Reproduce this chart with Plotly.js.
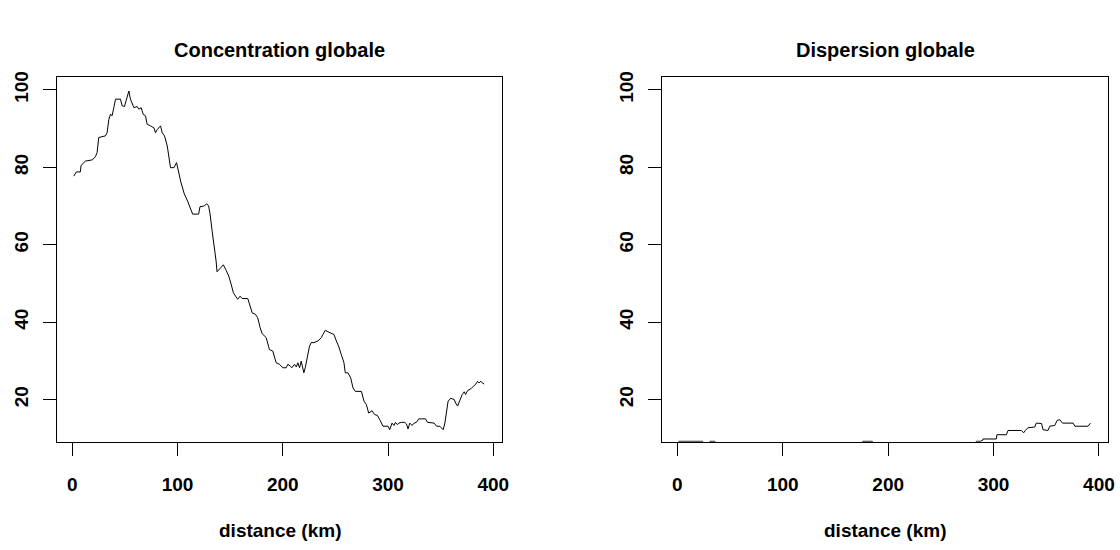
<!DOCTYPE html>
<html><head><meta charset="utf-8">
<script src="https://cdn.plot.ly/plotly-3.0.1.min.js"></script>
<style>html,body{margin:0;padding:0;background:#fff}</style>
</head><body><div id="chart" style="width:1120px;height:550px"></div>
<script>
const concKm = [1.3,3.8,7.6,8.3,12.4,18.8,21.9,23.5,25.1,31.4,
33.0,34.7,36.2,37.8,39.4,41.0,45.7,47.3,49.5,51.4,
52.8,53.7,55.2,56.9,58.5,61.6,63.2,65.4,67.3,69.5,
71.1,74.3,77.5,79.0,80.7,82.3,83.8,85.4,87.6,90.2,
91.8,93.3,96.6,99.0,103.2,106.4,109.5,112.8,114.3,120.0,
121.3,125.4,127.6,129.5,130.9,132.8,135.0,136.6,137.5,140.4,
143.5,146.1,148.6,150.9,153.0,155.6,157.1,159.4,161.3,166.7,
168.3,170.9,174.0,176.2,178.5,180.4,184.2,185.7,187.3,190.5,
193.7,196.9,200.0,203.2,204.8,207.3,208.6,211.1,212.8,214.3,
215.9,217.5,220.0,221.3,223.2,225.4,227.0,229.5,233.3,236.6,
238.1,240.4,242.9,246.1,248.6,250.9,253.0,255.6,258.1,259.4,
261.9,264.5,266.7,268.9,274.7,277.1,279.4,281.6,284.8,287.3,
289.9,292.1,295.2,300.0,301.6,303.8,305.7,307.0,308.9,310.2,
312.8,315.9,317.5,319.0,320.7,322.9,324.8,327.0,329.2,335.6,
337.5,343.8,346.1,349.2,352.4,354.0,355.6,357.1,359.7,362.9,
364.2,366.1,368.3,370.5,372.4,373.7,375.6,378.8,381.0,383.2,
385.1,386.4,388.3,389.5,391.4];
const concVal = [77.7,78.8,78.8,80.5,81.6,81.9,82.7,83.8,87.7,88.1,
88.9,92.4,93.7,93.3,95.4,97.6,97.6,95.9,95.7,97.6,
98.9,99.7,97.6,96.3,95.4,95.7,95.0,95.4,93.7,93.3,
91.1,90.7,90.2,88.9,89.8,90.2,90.7,88.9,88.1,85.5,
82.0,79.9,79.9,81.2,76.1,73.1,71.3,69.2,67.9,67.9,
69.8,70.0,70.6,70.0,67.9,63.6,59.3,55.8,53.0,53.9,
54.8,53.4,51.9,49.8,47.6,46.5,45.9,46.7,46.1,46.1,
44.6,42.4,42.0,41.1,38.5,37.0,36.0,34.7,32.9,32.5,
29.5,29.1,28.2,28.2,29.1,28.6,28.2,29.1,28.4,29.5,
28.2,29.9,26.9,28.2,30.8,33.8,34.7,34.7,35.1,36.0,
36.8,37.9,37.5,37.0,36.8,35.1,33.8,31.6,29.5,26.9,
26.9,25.6,23.0,22.1,22.1,19.6,18.7,16.5,17.1,16.1,
15.9,14.8,13.1,13.1,12.2,13.9,13.3,14.1,13.5,13.9,
14.1,14.1,13.7,12.4,13.9,13.3,13.9,14.1,15.0,15.0,
14.1,13.9,13.1,13.1,12.2,13.9,17.0,19.6,20.3,20.0,
19.1,18.3,19.8,21.3,22.0,21.3,22.3,22.8,23.4,23.9,
24.7,24.3,24.7,24.3,24.0];
const dispKm = [1,24,24.5,30.5,31,35.6,36,175.5,176,185,
185.5,283,283.6,288,288.4,289.5,289.9,302.7,303.2,312.2,
313.7,326.4,328.6,330,332.7,339.1,340.5,343.2,345.5,347,
351.7,353.3,358.1,360.3,362.8,365.4,375.5,377.1,389.7,391.9];
const dispVal = [9.2,9.2,8.5,8.5,9.2,9.2,8.5,8.5,9.2,9.2,
8.5,8.5,9.2,9.2,9.4,9.4,9.8,9.8,10.9,10.9,
12.0,12.0,11.4,12.0,12.7,12.9,13.9,13.9,13.8,12.2,
12.0,13.1,13.3,14.6,14.8,13.9,13.9,13.1,13.1,13.9];
const xTicks = [0,100,200,300,400];
const yTicks = [20,40,60,80,100];
const plotTitles = ["Concentration globale","Dispersion globale"];
const xLabel = "distance (km)";

const FONT = "Liberation Sans, Arial, Helvetica, sans-serif";
const xRange = [-14.3, 408.3];
const yRange = [9.1, 103.4];
const yDom = [1 - 441.7/550, 1 - 76.7/550];
const xDomL = [57.3/1120, 502/1120];
const xDomR = [662.3/1120, 1107.7/1120];

function xa(dom, anchor){
  return {domain: dom, anchor: anchor, range: xRange, tickmode:'array', tickvals: xTicks,
    ticktext: xTicks.map(String), ticks:'outside', ticklen:13, tickwidth:1, tickcolor:'#000',
    showline:true, mirror:true, linecolor:'#000', linewidth:1, showgrid:false, zeroline:false,
    ticklabelstandoff: 12,
    tickfont:{family:FONT, size:19, color:'#000', weight:'bold'}};
}
function ya(anchor){
  return {domain: yDom, anchor: anchor, range: yRange, tickmode:'array', tickvals: yTicks,
    ticktext: yTicks.map(String), ticks:'outside', ticklen:13, tickwidth:1, tickcolor:'#000',
    showline:true, mirror:true, linecolor:'#000', linewidth:1, showgrid:false, zeroline:false,
    tickangle:-90, ticklabelstandoff: 8,
    tickfont:{family:FONT, size:19, color:'#000', weight:'bold'}};
}

const traces = [
  {x: concKm, y: concVal, xaxis:'x', yaxis:'y', mode:'lines', line:{color:'#000', width:1}, hoverinfo:'skip'},
  {x: dispKm, y: dispVal, xaxis:'x2', yaxis:'y2', mode:'lines', line:{color:'#000', width:1}, hoverinfo:'skip'}
];

const centers = [(xDomL[0]+xDomL[1])/2, (xDomR[0]+xDomR[1])/2];
const annotations = [];
plotTitles.forEach((t,i)=>{
  annotations.push({text:'<b>'+t+'</b>', xref:'paper', yref:'paper', x:centers[i], y:1-50/550,
    xanchor:'center', yanchor:'middle', showarrow:false, font:{family:FONT, size:20, color:'#000'}});
  annotations.push({text:'<b>'+xLabel+'</b>', xref:'paper', yref:'paper', x:centers[i], y:1-530/550,
    xanchor:'center', yanchor:'middle', showarrow:false, font:{family:FONT, size:19, color:'#000'}});
});

const layout = {
  width:1120, height:550, margin:{l:0,r:0,t:0,b:0},
  paper_bgcolor:'#fff', plot_bgcolor:'#fff', showlegend:false,
  xaxis: xa(xDomL,'y'), yaxis: ya('x'),
  xaxis2: xa(xDomR,'y2'), yaxis2: ya('x2'),
  annotations: annotations
};
Plotly.newPlot('chart', traces, layout, {staticPlot:true, displayModeBar:false});
</script>
</body></html>
